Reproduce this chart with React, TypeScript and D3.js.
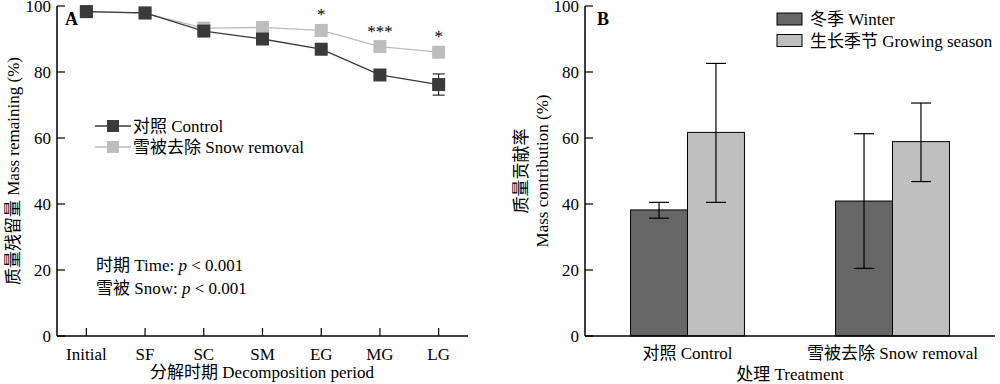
import React from 'react';
import * as d3 from 'd3';

const periods = ['Initial', 'SF', 'SC', 'SM', 'EG', 'MG', 'LG'];
const controlMass = [98.3, 97.9, 92.4, 90.0, 86.9, 79.1, 76.2];
const controlErr = [0.4, 0.6, 1.0, 0.8, 0.8, 0.6, 3.2];
const snowMass = [98.3, 97.8, 93.3, 93.5, 92.6, 87.7, 86.0];
const snowErr = [0.4, 0.5, 0.8, 0.8, 0.6, 0.6, 0.6];
const signif = ['', '', '', '', '*', '***', '*'];

const treatments = ['对照 Control', '雪被去除 Snow removal'];
const seasons = ['冬季 Winter', '生长季节 Growing season'];
const winterContrib = [38.2, 40.9];
const winterLow = [35.7, 20.5];
const winterHigh = [40.5, 61.3];
const growingContrib = [61.7, 58.9];
const growingLow = [40.5, 46.8];
const growingHigh = [82.6, 70.6];

const yTicks = [0, 20, 40, 60, 80, 100];

const FONT = "'Liberation Serif', 'Noto Sans CJK SC', serif";
const DARK = '#3a3a3a';
const LIGHT = '#bdbdbd';
const BAR_DARK = '#666666';
const BAR_LIGHT = '#bfbfbf';

const y = d3.scaleLinear().domain([0, 100]).range([336, 6]);

const YAxis = ({ x0 }: { x0: number }) => (
  <g>
    <line x1={x0} x2={x0} y1={y(0)} y2={y(100)} stroke="#000" strokeWidth={1.5} />
    {yTicks.map((t) => (
      <g key={t}>
        <line x1={x0} x2={x0 + 8} y1={y(t)} y2={y(t)} stroke="#000" strokeWidth={1.2} />
        <text x={x0 - 6} y={y(t) + 6} textAnchor="end" fontSize={17}>
          {t}
        </text>
      </g>
    ))}
  </g>
);

const PanelA = () => {
  const x = d3.scalePoint<string>().domain(periods).range([57, 468]).padding(0.5);
  const line = d3
    .line<number>()
    .x((_, i) => x(periods[i]) as number)
    .y((d) => y(d));
  const sq = 13;

  const series = [
    { vals: snowMass, err: snowErr, color: LIGHT },
    { vals: controlMass, err: controlErr, color: DARK },
  ];

  return (
    <g>
      <YAxis x0={57} />
      <line x1={57} x2={468} y1={y(0)} y2={y(0)} stroke="#000" strokeWidth={1.5} />
      {periods.map((p) => (
        <g key={p}>
          <line x1={x(p)} x2={x(p)} y1={y(0)} y2={y(0) - 8} stroke="#000" strokeWidth={1.2} />
          <text x={x(p)} y={360} textAnchor="middle" fontSize={17}>
            {p}
          </text>
        </g>
      ))}
      {series.map((s, si) => (
        <g key={si}>
          <path d={line(s.vals) || ''} fill="none" stroke={s.color} strokeWidth={1.3} />
          {s.vals.map((v, i) => {
            const cx = x(periods[i]) as number;
            return (
              <g key={i}>
                <line x1={cx} x2={cx} y1={y(v - s.err[i])} y2={y(v + s.err[i])} stroke="#000" strokeWidth={1} />
                <line x1={cx - 6} x2={cx + 6} y1={y(v - s.err[i])} y2={y(v - s.err[i])} stroke="#000" strokeWidth={1} />
                <line x1={cx - 6} x2={cx + 6} y1={y(v + s.err[i])} y2={y(v + s.err[i])} stroke="#000" strokeWidth={1} />
                <rect x={cx - sq / 2} y={y(v) - sq / 2} width={sq} height={sq} fill={s.color} />
              </g>
            );
          })}
        </g>
      ))}
      {signif.map((s, i) =>
        s ? (
          <text
            key={i}
            x={x(periods[i])}
            y={y(snowMass[i]) - 10}
            textAnchor="middle"
            fontSize={17}
          >
            {s}
          </text>
        ) : null
      )}
      <text x={65} y={25} fontSize={18} fontWeight="bold">
        A
      </text>
      {[
        { label: '对照 Control', color: DARK, yy: 126 },
        { label: '雪被去除 Snow removal', color: LIGHT, yy: 147 },
      ].map((l) => (
        <g key={l.label}>
          <line x1={95} x2={131} y1={l.yy} y2={l.yy} stroke={l.color} strokeWidth={1.3} />
          <rect x={107} y={l.yy - 6} width={12} height={12} fill={l.color} />
          <text x={133} y={l.yy + 6} fontSize={17}>
            {l.label}
          </text>
        </g>
      ))}
      <text x={96} y={271} fontSize={17}>
        时期 Time: <tspan fontStyle="italic">p</tspan> &lt; 0.001
      </text>
      <text x={96} y={294} fontSize={17}>
        雪被 Snow: <tspan fontStyle="italic">p</tspan> &lt; 0.001
      </text>
      <text x={262} y={378} textAnchor="middle" fontSize={17}>
        分解时期 Decomposition period
      </text>
      <text transform="translate(19,171) rotate(-90)" textAnchor="middle" fontSize={17}>
        质量残留量 Mass remaining (%)
      </text>
    </g>
  );
};

const PanelB = () => {
  const x0 = d3.scaleBand<string>().domain(treatments).range([585, 995]).padding(0);
  const x1 = d3
    .scaleBand<string>()
    .domain(seasons)
    .range([0, x0.bandwidth()])
    .paddingInner(0)
    .paddingOuter(0.8);
  const bw = x1.bandwidth();
  const groups = [
    { vals: winterContrib, lo: winterLow, hi: winterHigh, color: BAR_DARK, key: seasons[0] },
    { vals: growingContrib, lo: growingLow, hi: growingHigh, color: BAR_LIGHT, key: seasons[1] },
  ];
  return (
    <g>
      {treatments.map((t, ti) =>
        groups.map((g) => {
          const bx = (x0(t) as number) + (x1(g.key) as number);
          const cx = bx + bw / 2;
          return (
            <g key={t + g.key}>
              <rect
                x={bx}
                y={y(g.vals[ti])}
                width={bw}
                height={y(0) - y(g.vals[ti])}
                fill={g.color}
                stroke="#000"
                strokeWidth={1}
              />
              <line x1={cx} x2={cx} y1={y(g.lo[ti])} y2={y(g.hi[ti])} stroke="#000" strokeWidth={1.2} />
              <line x1={cx - 10} x2={cx + 10} y1={y(g.lo[ti])} y2={y(g.lo[ti])} stroke="#000" strokeWidth={1.2} />
              <line x1={cx - 10} x2={cx + 10} y1={y(g.hi[ti])} y2={y(g.hi[ti])} stroke="#000" strokeWidth={1.2} />
            </g>
          );
        })
      )}
      <YAxis x0={585} />
      <line x1={585} x2={995} y1={y(0)} y2={y(0)} stroke="#000" strokeWidth={1.5} />
      {treatments.map((t) => (
        <text key={t} x={(x0(t) as number) + x0.bandwidth() / 2} y={359} textAnchor="middle" fontSize={17}>
          {t}
        </text>
      ))}
      <text x={597} y={25} fontSize={18} fontWeight="bold">
        B
      </text>
      {groups.map((g, i) => (
        <g key={g.key}>
          <rect x={777} y={13 + i * 21.5} width={25} height={12} fill={g.color} stroke="#000" strokeWidth={1} />
          <text x={810} y={25 + i * 21.5} fontSize={17}>
            {g.key}
          </text>
        </g>
      ))}
      <text x={790} y={380} textAnchor="middle" fontSize={17}>
        处理 Treatment
      </text>
      <text transform="translate(527,171) rotate(-90)" textAnchor="middle" fontSize={17}>
        质量贡献率
      </text>
      <text transform="translate(548,171) rotate(-90)" textAnchor="middle" fontSize={17}>
        Mass contribution (%)
      </text>
    </g>
  );
};

export default function App() {
  return (
    <div style={{ position: 'fixed', left: 0, top: 0 }}>
      <svg width={1000} height={384} style={{ display: 'block', background: '#fff' }} fontFamily={FONT}>
        <PanelA />
        <PanelB />
      </svg>
    </div>
  );
}
